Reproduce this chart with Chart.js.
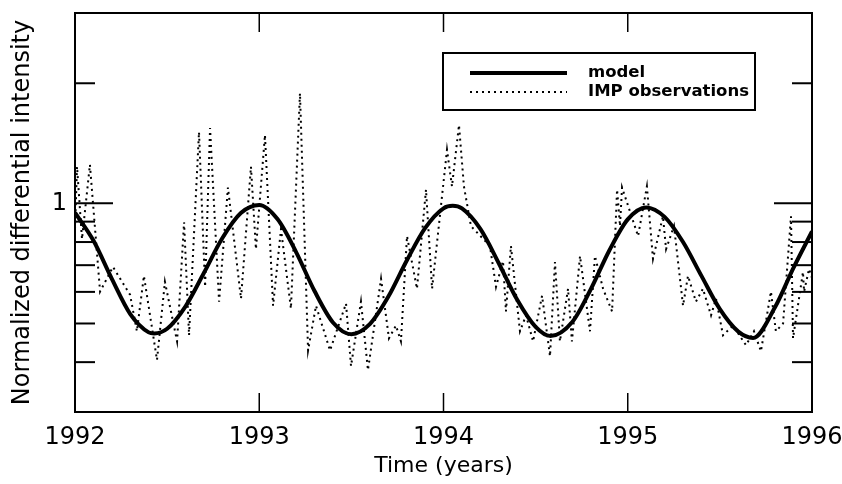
<!DOCTYPE html>
<html>
<head>
<meta charset="utf-8">
<script src="https://cdn.jsdelivr.net/npm/chart.js@4"></script>
<style>
  html, body { margin: 0; padding: 0; background: #fff; }
  #wrap { width: 842px; height: 484px; }
</style>
</head>
<body>
<div id="wrap"><canvas id="cosmicChart" width="842" height="484"></canvas></div>
<script>
// model vs IMP observations, 1992-1996

const modelYears = [1992.0, 1992.1, 1992.2, 1992.3, 1992.4, 1992.43, 1992.5, 1992.6, 1992.7, 1992.8, 1992.9,
  1993.0, 1993.1, 1993.2, 1993.3, 1993.4, 1993.5, 1993.6, 1993.7, 1993.8, 1993.9,
  1994.0, 1994.05, 1994.1, 1994.2, 1994.3, 1994.4, 1994.5, 1994.58, 1994.7, 1994.8, 1994.9,
  1995.0, 1995.1, 1995.2, 1995.3, 1995.4, 1995.5, 1995.6, 1995.68, 1995.8, 1995.9, 1996.0];
const modelValues = [0.948, 0.807, 0.647, 0.528, 0.475, 0.472, 0.485, 0.552, 0.670, 0.819, 0.946,
  0.991, 0.912, 0.755, 0.603, 0.503, 0.470, 0.498, 0.583, 0.718, 0.867,
  0.972, 0.986, 0.971, 0.863, 0.708, 0.573, 0.490, 0.465, 0.505, 0.610, 0.762,
  0.912, 0.977, 0.925, 0.800, 0.658, 0.543, 0.477, 0.460, 0.550, 0.690, 0.850];

const obsYears = [1992.000, 1992.011, 1992.038, 1992.081, 1992.136, 1992.206, 1992.299, 1992.336, 1992.374, 1992.445,
  1992.488, 1992.554, 1992.592, 1992.619, 1992.673, 1992.706, 1992.733, 1992.782, 1992.830, 1992.901,
  1992.955, 1992.982, 1993.031, 1993.075, 1993.118, 1993.172, 1993.221, 1993.265, 1993.308, 1993.384,
  1993.471, 1993.498, 1993.552, 1993.590, 1993.661, 1993.704, 1993.742, 1993.769, 1993.802, 1993.856,
  1993.905, 1993.938, 1994.019, 1994.046, 1994.084, 1994.111, 1994.149, 1994.252, 1994.285, 1994.323,
  1994.339, 1994.366, 1994.415, 1994.448, 1994.486, 1994.535, 1994.578, 1994.605, 1994.632, 1994.676,
  1994.697, 1994.741, 1994.795, 1994.822, 1994.866, 1994.915, 1994.942, 1994.958, 1994.969, 1995.056,
  1995.104, 1995.137, 1995.191, 1995.208, 1995.251, 1995.300, 1995.327, 1995.370, 1995.408, 1995.452,
  1995.479, 1995.517, 1995.571, 1995.642, 1995.685, 1995.723, 1995.777, 1995.804, 1995.843, 1995.886,
  1995.897, 1995.951, 1995.957, 1995.984, 1996.000];
const obsValues = [0.862, 1.236, 0.814, 1.250, 0.601, 0.693, 0.590, 0.478, 0.658, 0.405,
  0.636, 0.451, 0.897, 0.467, 1.510, 0.618, 1.545, 0.567, 1.096, 0.577,
  1.236, 0.768, 1.484, 0.554, 0.862, 0.545, 1.888, 0.428, 0.554, 0.428,
  0.561, 0.391, 0.567, 0.382, 0.647, 0.459, 0.494, 0.451, 0.828, 0.611,
  1.083, 0.611, 1.362, 1.102, 1.572, 1.102, 0.877, 0.782, 0.618, 0.717,
  0.536, 0.782, 0.478, 0.524, 0.451, 0.587, 0.414, 0.713, 0.451, 0.611,
  0.451, 0.738, 0.478, 0.738, 0.611, 0.536, 1.083, 0.877, 1.096, 0.828,
  1.102, 0.726, 0.928, 0.768, 0.877, 0.554, 0.658, 0.567, 0.611, 0.524,
  0.577, 0.467, 0.494, 0.441, 0.478, 0.426, 0.601, 0.478, 0.500, 0.928,
  0.459, 0.673, 0.601, 0.685, 0.650];

const yearTicks = [1992, 1993, 1994, 1995, 1996];
const yTickMarks = [0.4, 0.5, 0.6, 0.7, 0.8, 0.9, 1, 2];
const yLabelled = [1];

const FONT = "'DejaVu Sans', sans-serif";

function toPoints(xs, ys) {
  return xs.map((x, i) => ({ x: x, y: ys[i] }));
}

// frame, inward ticks and the boxed legend
const frameAndLegend = {
  id: 'frameAndLegend',
  afterDatasetsDraw(chart) {
    const { ctx, chartArea: a, scales: { x, y } } = chart;
    ctx.save();
    ctx.strokeStyle = '#000';
    ctx.lineWidth = 2;
    ctx.strokeRect(a.left, a.top, a.width, a.height);

    const seg = (x1, y1, x2, y2) => {
      ctx.beginPath(); ctx.moveTo(x1, y1); ctx.lineTo(x2, y2); ctx.stroke();
    };
    yTickMarks.forEach(v => {
      const py = y.getPixelForValue(v);
      const len = v === 1 ? 38 : 20;
      seg(a.left, py, a.left + len, py);
      seg(a.right, py, a.right - len, py);
    });
    ctx.lineWidth = 1.5;
    yearTicks.slice(1, -1).forEach(v => {
      const px = x.getPixelForValue(v);
      seg(px, a.bottom, px, a.bottom - 19);
      seg(px, a.top, px, a.top + 19);
    });

    // legend
    const bx = 443, by = 53, bw = 312, bh = 57;
    ctx.lineWidth = 2;
    ctx.strokeRect(bx, by, bw, bh);
    ctx.font = 'bold 16.5px ' + FONT;
    ctx.fillStyle = '#000';
    ctx.textBaseline = 'middle';
    chart.data.datasets.forEach((ds, i) => {
      const ly = by + 20 + i * 19;
      ctx.lineWidth = ds.borderWidth;
      ctx.setLineDash(ds.borderDash || []);
      seg(470, ly, 567, ly);
      ctx.setLineDash([]);
      ctx.fillText(ds.label, 588, ly);
    });
    ctx.restore();
  }
};

new Chart(document.getElementById('cosmicChart'), {
  type: 'line',
  data: {
    datasets: [{
      label: 'model',
      data: toPoints(modelYears, modelValues),
      borderColor: '#000',
      borderWidth: 4,
      cubicInterpolationMode: 'monotone',
      pointRadius: 0,
      fill: false
    }, {
      label: 'IMP observations',
      data: toPoints(obsYears, obsValues),
      borderColor: '#000',
      borderWidth: 2,
      borderDash: [2, 4],
      tension: 0,
      pointRadius: 0,
      fill: false
    }]
  },
  options: {
    responsive: false,
    animation: false,
    layout: { padding: { left: 0, right: 30, top: 13, bottom: 0 } },
    plugins: {
      legend: { display: false },
      tooltip: { enabled: false }
    },
    scales: {
      x: {
        type: 'linear',
        min: 1992,
        max: 1996,
        afterBuildTicks: s => { s.ticks = yearTicks.map(v => ({ value: v })); },
        afterFit: s => { s.height = 72; s.paddingLeft = 0; s.paddingRight = 0; },
        grid: { display: false, drawTicks: false },
        border: { display: false },
        ticks: {
          color: '#000',
          padding: 11,
          maxRotation: 0,
          font: { family: FONT, size: 24 },
          callback: v => String(v)
        },
        title: {
          display: true,
          text: 'Time (years)',
          color: '#000',
          font: { family: FONT, size: 22 },
          padding: { top: 0, bottom: 5 }
        }
      },
      y: {
        type: 'logarithmic',
        min: 0.3,
        max: 3,
        afterBuildTicks: s => { s.ticks = yLabelled.map(v => ({ value: v })); },
        afterFit: s => { s.width = 75; s.paddingTop = 0; s.paddingBottom = 0; },
        grid: { display: false, drawTicks: false },
        border: { display: false },
        ticks: {
          color: '#000',
          padding: 8,
          font: { family: FONT, size: 24 },
          callback: v => String(v)
        },
        title: {
          display: true,
          text: 'Normalized differential intensity',
          color: '#000',
          font: { family: FONT, size: 24 },
          padding: { top: 8, bottom: 0 }
        }
      }
    }
  },
  plugins: [frameAndLegend]
});
</script>
</body>
</html>
